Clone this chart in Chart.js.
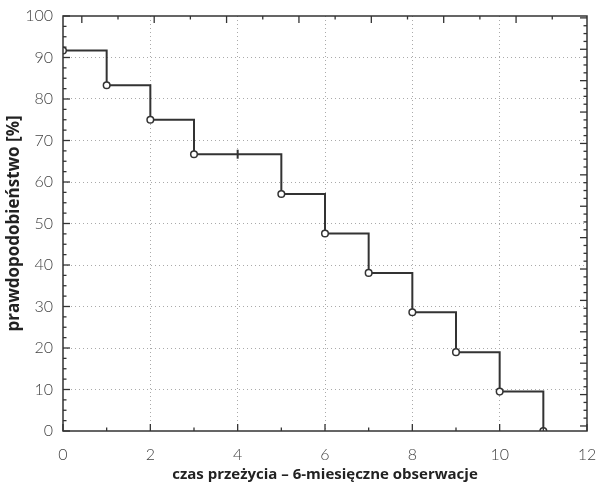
<!DOCTYPE html>
<html>
<head>
<meta charset="utf-8">
<script src="https://cdn.jsdelivr.net/npm/chart.js@4/dist/chart.umd.min.js"></script>
<style>
  body { margin: 0; background: #fff; }
  canvas { display: block; }
</style>
</head>
<body>
<canvas id="chartCanvas" width="598" height="488"></canvas>
<script>
// Kaplan-Meier steps
const eventTimes = [0, 1, 2, 3, 5, 6, 7, 8, 9, 10, 11];
const survival = [91.7, 83.3, 75.0, 66.7, 57.1, 47.6, 38.1, 28.6, 19.0, 9.5, 0];
const censoredTimes = [4];
const censoredSurvival = [66.7];

const xMin = 0, xMax = 12, xStep = 2;
const yMin = 0, yMax = 100, yStep = 10;

const lineColor = "#333";
const tickFont = { family: "Lato, 'Open Sans', sans-serif", size: 16, weight: "300" };

// draw inward tick marks on all four sides, plus top/right frame
const frameTicks = {
  id: "frameTicks",
  afterDraw(chart) {
    const { ctx, chartArea: a, scales } = chart;
    ctx.save();
    ctx.strokeStyle = lineColor;
    ctx.lineWidth = 1.5;
    ctx.strokeRect(a.left, a.top, a.right - a.left, a.bottom - a.top);
    ctx.lineWidth = 1.3;

    const side = (scale, step, minor, edge, dir, horiz) => {
      const first = Math.ceil(scale.min / minor - 1e-9);
      for (let i = first; i * minor <= scale.max + 1e-9; i++) {
        const v = i * minor;
        const p = scale.getPixelForValue(v);
        const isMajor = Math.abs(v / step - Math.round(v / step)) < 1e-6;
        const len = isMajor ? 7 : 3.5;
        ctx.beginPath();
        if (horiz) { ctx.moveTo(p, edge); ctx.lineTo(p, edge + dir * len); }
        else { ctx.moveTo(edge, p); ctx.lineTo(edge + dir * len, p); }
        ctx.stroke();
      }
    };
    side(scales.x, 2, 1, a.bottom, -1, true);
    side(scales.xTop, 2, 1, a.top, 1, true);
    side(scales.y, 10, 2.5, a.left, 1, false);
    side(scales.yRight, 1, 0.25, a.right, -1, false);
    ctx.restore();
  }
};

const edgeless = (max) => (c) =>
  (c.tick && (c.tick.value === 0 || c.tick.value === max)) ? "rgba(0,0,0,0)" : "#aaa";

new Chart(document.getElementById("chartCanvas").getContext("2d"), {
  type: "scatter",
  data: {
    datasets: [
      {
        data: eventTimes.map((t, i) => ({ x: t, y: survival[i] })),
        showLine: true,
        stepped: "before",
        borderColor: lineColor,
        borderWidth: 2,
        pointRadius: 3.3,
        pointBorderWidth: 1.5,
        pointBackgroundColor: "#fff",
        pointBorderColor: lineColor,
        clip: 0
      },
      {
        data: censoredTimes.map((t, i) => ({ x: t, y: censoredSurvival[i] })),
        showLine: false,
        pointStyle: "line",
        rotation: 90,
        pointRadius: 4.5,
        pointBorderWidth: 2,
        pointBorderColor: lineColor
      }
    ]
  },
  options: {
    responsive: false,
    animation: false,
    layout: { padding: { left: 0, top: 16, right: 11, bottom: 0 } },
    plugins: { legend: { display: false }, tooltip: { enabled: false } },
    scales: {
      x: {
        type: "linear",
        position: "bottom",
        min: xMin, max: xMax,
        afterFit: (s) => { s.height = 57; s.paddingLeft = 0; s.paddingRight = 0; },
        ticks: { stepSize: xStep, color: "#444", font: tickFont, padding: 14 },
        grid: { drawTicks: false, color: edgeless(xMax), lineWidth: 1 },
        border: { display: false, dash: [1, 3] },
        title: {
          display: true,
          text: "czas przeżycia – 6-miesięczne obserwacje",
          color: "#222",
          font: { family: "'Open Sans', Lato, sans-serif", size: 15, weight: "bold" },
          padding: { top: 0, bottom: 4 }
        }
      },
      xTop: {
        type: "linear",
        position: "top",
        display: false,
        min: -0.52, max: 13.96
      },
      y: {
        type: "linear",
        position: "left",
        min: yMin, max: yMax,
        afterFit: (s) => { s.width = 63; s.paddingTop = 0; s.paddingBottom = 0; },
        ticks: { stepSize: yStep, color: "#444", font: tickFont, padding: 10 },
        grid: { drawTicks: false, color: edgeless(yMax), lineWidth: 1 },
        border: { display: false, dash: [1, 3] },
        title: {
          display: true,
          text: "prawdopodobieństwo [%]",
          color: "#222",
          font: { family: "'Open Sans', Lato, sans-serif", size: 17, weight: "bold" },
          padding: { top: 4, bottom: 0 }
        }
      },
      yRight: {
        type: "linear",
        position: "right",
        display: false,
        min: -0.16, max: 13.06
      }
    }
  },
  plugins: [frameTicks]
});
</script>
</body>
</html>
